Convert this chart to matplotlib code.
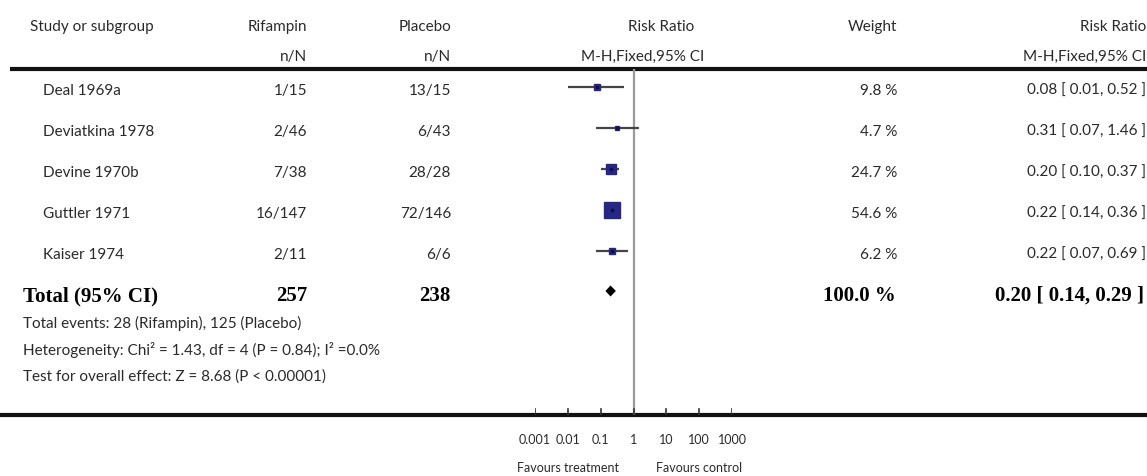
import matplotlib
matplotlib.use("Agg")
import matplotlib.pyplot as plt

# study level data
studies = ["Deal 1969a", "Deviatkina 1978", "Devine 1970b", "Guttler 1971", "Kaiser 1974"]
rif_events = [1, 2, 7, 16, 2]
rif_total = [15, 46, 38, 147, 11]
plc_events = [13, 6, 28, 72, 6]
plc_total = [15, 43, 28, 146, 6]
weights = [9.8, 4.7, 24.7, 54.6, 6.2]
rr = [0.08, 0.31, 0.20, 0.22, 0.22]
ci_lo = [0.01, 0.07, 0.10, 0.14, 0.07]
ci_hi = [0.52, 1.46, 0.37, 0.36, 0.69]

# pooled result
total_rif = 257
total_plc = 238
total_weight = 100.0
total_rr = 0.20
total_lo = 0.14
total_hi = 0.29

footer = ["Total events: 28 (Rifampin), 125 (Placebo)",
          "Heterogeneity: Chi² = 1.43, df = 4 (P = 0.84); I² =0.0%",
          "Test for overall effect: Z = 8.68 (P < 0.00001)"]

axis_ticks = [0.001, 0.01, 0.1, 1, 10, 100, 1000]
axis_labels = ["0.001", "0.01", "0.1", "1", "10", "100", "1000"]

W, H = 1147, 477
sans = "Lato"
serif = "Liberation Serif"
txt = "#2a2a2a"
fs = 11
fs_tot = 15

fig = plt.figure(figsize=(W / 100, H / 100), dpi=100)
ax = fig.add_axes([0, 0, 1, 1])
ax.set_xlim(0, W)
ax.set_ylim(H, 0)
ax.axis("off")

# forest panel lives between the two rules, 0.001 .. 1000 on a log scale
x0, x1 = 535, 732
top, bottom = 70, 416
fx = fig.add_axes([x0 / W, 1 - bottom / H, (x1 - x0) / W, (bottom - top) / H])
fx.set_xscale("log")
fx.set_xlim(1e-3, 1e3)
fx.set_ylim(bottom, top)
fx.axis("off")
fx.patch.set_alpha(0)


def cell(x, y, s, ha="left", **kw):
    ax.text(x, y, s, fontsize=fs, family=sans, color=txt, va="center", ha=ha, **kw)


# header
hy1, hy2 = 27, 57
cell(30, hy1, "Study or subgroup")
cell(307, hy1, "Rifampin", ha="right")
cell(307, hy2, "n/N", ha="right")
cell(451, hy1, "Placebo", ha="right")
cell(451, hy2, "n/N", ha="right")
cell(661, hy1, "Risk Ratio", ha="center")
cell(643, hy2, "M-H,Fixed,95% CI", ha="center")
cell(897, hy1, "Weight", ha="right")
cell(1146, hy1, "Risk Ratio", ha="right")
cell(1146, hy2, "M-H,Fixed,95% CI", ha="right")

ax.plot([10, W], [top, top], color="#111111", lw=3, solid_capstyle="butt")
ax.plot([0, W], [bottom, bottom], color="#111111", lw=3, solid_capstyle="butt")

# line of no effect
fx.plot([1, 1], [top, bottom], color="#9a9a9a", lw=1.6)

row_y = [88, 129, 170, 211, 252]
for i, name in enumerate(studies):
    y = row_y[i]
    ty = y + 3
    cell(43, ty, name)
    cell(307, ty, f"{rif_events[i]}/{rif_total[i]}", ha="right")
    cell(451, ty, f"{plc_events[i]}/{plc_total[i]}", ha="right")
    cell(897, ty, f"{weights[i]:.1f} %", ha="right")
    cell(1146, ty, f"{rr[i]:.2f} [ {ci_lo[i]:.2f}, {ci_hi[i]:.2f} ]", ha="right")

    fx.plot([ci_lo[i], ci_hi[i]], [y, y], color="#444444", lw=1.6, solid_capstyle="butt")
    side = 2.2 * weights[i] ** 0.5
    fx.plot(rr[i], y, marker="s", ms=side * 0.72, color="#262688", mec="#262688")
    fx.plot(rr[i], y, marker="s", ms=1.6, color="#111133")

# pooled row
ty = 296
bold = dict(fontsize=fs_tot, family=serif, weight="bold", color="black", va="center")
ax.text(23, ty, "Total (95% CI)", **bold)
ax.text(307, ty, f"{total_rif}", ha="right", **bold)
ax.text(451, ty, f"{total_plc}", ha="right", **bold)
ax.text(896, ty, f"{total_weight:.1f} %", ha="right", **bold)
ax.text(1144, ty, f"{total_rr:.2f} [ {total_lo:.2f}, {total_hi:.2f} ]", ha="right", **bold)

dy = 292
fx.fill([total_lo, total_rr, total_hi, total_rr], [dy, dy - 5.5, dy, dy + 5.5],
        color="black", lw=0)

for k, line in enumerate(footer):
    cell(23, 323 + k * 27, line)

# log axis ticks drawn on the bottom rule
for t, lab in zip(axis_ticks, axis_labels):
    fx.plot([t, t], [bottom - 6, bottom], color="#333333", lw=1.2)
    fx.text(t, 440, lab, fontsize=9, family=sans, color=txt, ha="center", va="center")
fx.text(0.01, 468, "Favours treatment", fontsize=9, family=sans, color=txt, ha="center", va="center")
fx.text(100, 468, "Favours control", fontsize=9, family=sans, color=txt, ha="center", va="center")

fig.savefig("out.png", dpi=100)
